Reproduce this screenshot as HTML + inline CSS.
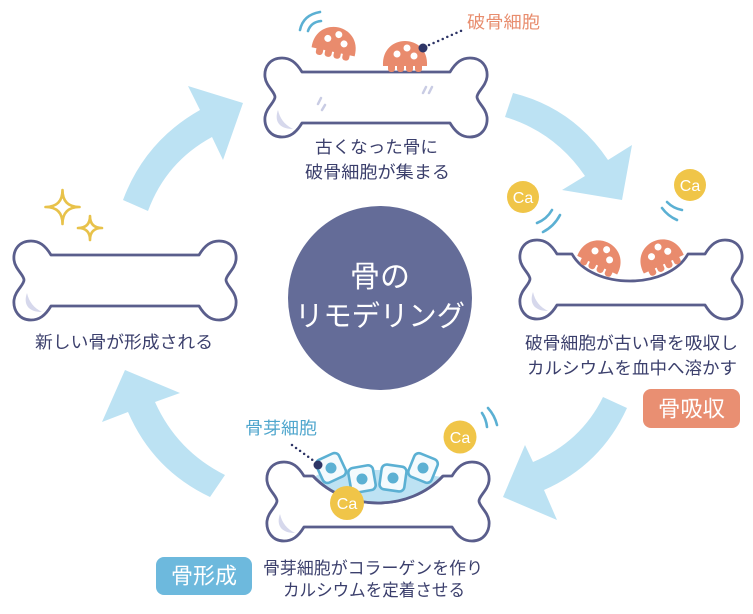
<!DOCTYPE html>
<html><head><meta charset="utf-8">
<style>
html,body{margin:0;padding:0;background:#fff;}
svg{display:block}
</style></head>
<body>
<svg width="753" height="614" viewBox="0 0 753 614" xmlns="http://www.w3.org/2000/svg" font-family="'Liberation Sans','Noto Sans CJK JP',sans-serif">
<defs>
  <g id="oc">
    <path d="M-22,9 C-23,-8 -11,-16 0,-16 C11,-16 23,-8 22,9 Z" fill="#E98B6D"/>
    <rect x="-17" y="3" width="7" height="12" rx="3" fill="#E98B6D"/>
    <rect x="-8" y="3" width="7" height="12" rx="3" fill="#E98B6D"/>
    <rect x="1" y="3" width="7" height="12" rx="3" fill="#E98B6D"/>
    <rect x="10" y="3" width="7" height="12" rx="3" fill="#E98B6D"/>
    <circle cx="-8" cy="-3" r="3.5" fill="#fff"/>
    <circle cx="2" cy="-9" r="3.5" fill="#fff"/>
    <circle cx="9" cy="-1" r="3.5" fill="#fff"/>
  </g>
  <path id="crescent" d="M13,52 C9,63 14,71 28,71 C20,67 15,61 13,52 Z" fill="#D6D8EC"/>
</defs>

<!-- Arrows -->
<g fill="#BCE2F3">
  <path d="M123,200 Q145,141 200,110 L188,86 L243,103 L223,160 L212,137 Q166,162 148,211 Z"/>
  <path d="M513,93 Q573,108 608,160 L632,145 L622,200 L562,190 L585,176 Q555,132 505,117 Z"/>
  <path d="M603,397 Q581,442 533,462 L525,445 L503,497 L557,520 L544,490 Q601,465 627,408 Z"/>
  <path d="M225,475 Q177,451 155,402 L180,393 L125,370 L102,422 L128,412 Q153,470 210,497 Z"/>
</g>

<!-- Center circle -->
<circle cx="380" cy="298" r="92" fill="#646C98"/>
<text x="380" y="287" font-size="30" fill="#fff" text-anchor="middle">骨の</text>
<text x="380" y="326" font-size="29" fill="#fff" text-anchor="middle" textLength="170" lengthAdjust="spacingAndGlyphs">リモデリング</text>

<!-- Top bone -->
<g transform="translate(265,58)">
  <path d="M37,14 C31,4 25,0 17,0 C5,0 -1,9 0,19 C1,28 10,34 10,39 C10,44 1,50 0,59 C-1,69 5,79 17,79 C25,79 31,75 37,65 L185,65 C191,75 197,79 205,79 C217,79 223,69 222,59 C221,50 212,44 212,39 C212,34 221,28 222,19 C223,9 217,0 205,0 C197,0 191,4 185,14 Z" fill="#fff" stroke="#5A5E8C" stroke-width="2.8" stroke-linejoin="round"/>
  <use href="#crescent"/>
</g>
<g stroke="#C9CCE4" stroke-width="2.5" stroke-linecap="round">
  <line x1="423" y1="93" x2="426" y2="87"/>
  <line x1="429" y1="93" x2="432" y2="87"/>
  <line x1="318" y1="104" x2="321" y2="98"/>
  <line x1="322" y1="110" x2="325" y2="105"/>
</g>
<!-- top osteoclasts -->
<use href="#oc" transform="translate(335,43) rotate(12)"/>
<use href="#oc" transform="translate(405,57)"/>
<g fill="none" stroke="#5BB0D3" stroke-width="2.6" stroke-linecap="round">
  <path d="M300,30 Q303,15 320,12"/>
  <path d="M308,31 Q311,22 321,21"/>
</g>
<line x1="429" y1="45" x2="463" y2="30" stroke="#2E3566" stroke-width="2.5" stroke-linecap="round" stroke-dasharray="0 5"/>
<circle cx="423" cy="48" r="4.5" fill="#2E3566"/>
<text x="503.5" y="28" font-size="17" fill="#E88D6E" text-anchor="middle" textLength="73" lengthAdjust="spacingAndGlyphs">破骨細胞</text>
<g font-size="17" fill="#3B3F6C" text-anchor="middle">
  <text x="376.5" y="153" textLength="123" lengthAdjust="spacingAndGlyphs">古くなった骨に</text>
  <text x="377.5" y="178" textLength="145" lengthAdjust="spacingAndGlyphs">破骨細胞が集まる</text>
</g>

<!-- Right bone -->
<g transform="translate(520,240)">
  <path d="M37,14 C31,4 25,0 17,0 C5,0 -1,9 0,19 C1,28 10,34 10,39 C10,44 1,50 0,59 C-1,69 5,79 17,79 C25,79 31,75 37,65 L185,65 C191,75 197,79 205,79 C217,79 223,69 222,59 C221,50 212,44 212,39 C212,34 221,28 222,19 C223,9 217,0 205,0 C197,0 191,4 185,14 L168,14 C148,50 72,50 52,14 Z" fill="#fff" stroke="#5A5E8C" stroke-width="2.8" stroke-linejoin="round"/>
  <use href="#crescent"/>
</g>
<use href="#oc" transform="translate(601,257) rotate(25)"/>
<use href="#oc" transform="translate(660,256) rotate(-25)"/>
<g fill="#F0C548">
  <circle cx="523" cy="197" r="16"/>
  <circle cx="690" cy="185" r="16"/>
</g>
<g font-size="16" fill="#fff" text-anchor="middle">
  <text x="523" y="203">Ca</text>
  <text x="690" y="191">Ca</text>
</g>
<g fill="none" stroke="#5BB0D3" stroke-width="2.6" stroke-linecap="round">
  <path d="M537,223 A30,30 0 0 0 552,210"/>
  <path d="M543,232 A40,40 0 0 0 560,215"/>
  <path d="M667,202 A28,28 0 0 0 682,210"/>
  <path d="M662,208 A37,37 0 0 0 677,220"/>
</g>
<g font-size="17" fill="#3B3F6C" text-anchor="middle">
  <text x="631.5" y="349" textLength="213" lengthAdjust="spacingAndGlyphs">破骨細胞が古い骨を吸収し</text>
  <text x="632" y="374" textLength="210" lengthAdjust="spacingAndGlyphs">カルシウムを血中へ溶かす</text>
</g>
<rect x="643" y="389" width="97" height="39" rx="8" fill="#E98F72"/>
<text x="691.5" y="416.5" font-size="22" fill="#fff" text-anchor="middle" textLength="67" lengthAdjust="spacingAndGlyphs">骨吸収</text>

<!-- Left bone -->
<g transform="translate(14,241)">
  <path d="M37,14 C31,4 25,0 17,0 C5,0 -1,9 0,19 C1,28 10,34 10,39 C10,44 1,50 0,59 C-1,69 5,79 17,79 C25,79 31,75 37,65 L185,65 C191,75 197,79 205,79 C217,79 223,69 222,59 C221,50 212,44 212,39 C212,34 221,28 222,19 C223,9 217,0 205,0 C197,0 191,4 185,14 Z" fill="#fff" stroke="#5A5E8C" stroke-width="2.8" stroke-linejoin="round"/>
  <use href="#crescent"/>
</g>
<g fill="#fff" stroke="#E8C24A" stroke-width="2.6" stroke-linejoin="round">
  <path d="M62.5,190 Q62.5,207 79.5,207 Q62.5,207 62.5,224 Q62.5,207 45.5,207 Q62.5,207 62.5,190 Z"/>
  <path d="M90,216 Q90,228 102,228 Q90,228 90,240 Q90,228 78,228 Q90,228 90,216 Z"/>
</g>
<text x="124" y="348" font-size="17" fill="#3B3F6C" text-anchor="middle" textLength="178" lengthAdjust="spacingAndGlyphs">新しい骨が形成される</text>

<!-- Bottom bone -->
<g transform="translate(267,462)">
  <path d="M37,14 C31,4 25,0 17,0 C5,0 -1,9 0,19 C1,28 10,34 10,39 C10,44 1,50 0,59 C-1,69 5,79 17,79 C25,79 31,75 37,65 L185,65 C191,75 197,79 205,79 C217,79 223,69 222,59 C221,50 212,44 212,39 C212,34 221,28 222,19 C223,9 217,0 205,0 C197,0 191,4 185,14 L176,14 C142,50 80,50 46,14 Z" fill="#fff" stroke="#5A5E8C" stroke-width="2.8" stroke-linejoin="round"/>
  <use href="#crescent"/>
</g>
<path d="M314,477 C347,512 409,512 442,477 C420,474 400,468 378,470 C352,470 332,466 314,477 Z" fill="#BDE2F3"/>
<path d="M313,476 C347,512 409,512 443,476" fill="none" stroke="#5A5E8C" stroke-width="2.8"/>
<g fill="#F4FAFD" stroke="#5BB0D3" stroke-width="2.6">
  <rect x="-12.5" y="-12.5" width="25" height="25" rx="5" transform="translate(331,468) rotate(-25)"/>
  <rect x="-12.5" y="-12.5" width="25" height="25" rx="5" transform="translate(362,479) rotate(-10)"/>
  <rect x="-12.5" y="-12.5" width="25" height="25" rx="5" transform="translate(393,478) rotate(8)"/>
  <rect x="-12.5" y="-12.5" width="25" height="25" rx="5" transform="translate(423,468) rotate(22)"/>
</g>
<g fill="#5BB0D3">
  <circle cx="331" cy="468" r="5.5"/>
  <circle cx="362" cy="479" r="5.5"/>
  <circle cx="393" cy="478" r="5.5"/>
  <circle cx="423" cy="468" r="5.5"/>
</g>
<line x1="292" y1="445" x2="314" y2="461" stroke="#2E3566" stroke-width="2.5" stroke-linecap="round" stroke-dasharray="0 5"/>
<circle cx="318" cy="465" r="4.5" fill="#2E3566"/>
<text x="281" y="434" font-size="17" fill="#4FA6CD" text-anchor="middle" textLength="72" lengthAdjust="spacingAndGlyphs">骨芽細胞</text>
<g fill="#F0C548">
  <circle cx="347" cy="503" r="17"/>
  <circle cx="460" cy="437" r="16.5"/>
</g>
<g font-size="16" fill="#fff" text-anchor="middle">
  <text x="347" y="509">Ca</text>
  <text x="460" y="443">Ca</text>
</g>
<g fill="none" stroke="#5BB0D3" stroke-width="2.6" stroke-linecap="round">
  <path d="M482,413 A30,30 0 0 1 487,427"/>
  <path d="M488,408 A39,39 0 0 1 497,425"/>
</g>
<g font-size="17" fill="#3B3F6C" text-anchor="middle">
  <text x="373" y="574" textLength="220" lengthAdjust="spacingAndGlyphs">骨芽細胞がコラーゲンを作り</text>
  <text x="374" y="596" textLength="182" lengthAdjust="spacingAndGlyphs">カルシウムを定着させる</text>
</g>
<rect x="156" y="557" width="96" height="38" rx="8" fill="#6DB9DD"/>
<text x="204" y="583.5" font-size="22" fill="#fff" text-anchor="middle" textLength="66" lengthAdjust="spacingAndGlyphs">骨形成</text>
</svg>
</body></html>
